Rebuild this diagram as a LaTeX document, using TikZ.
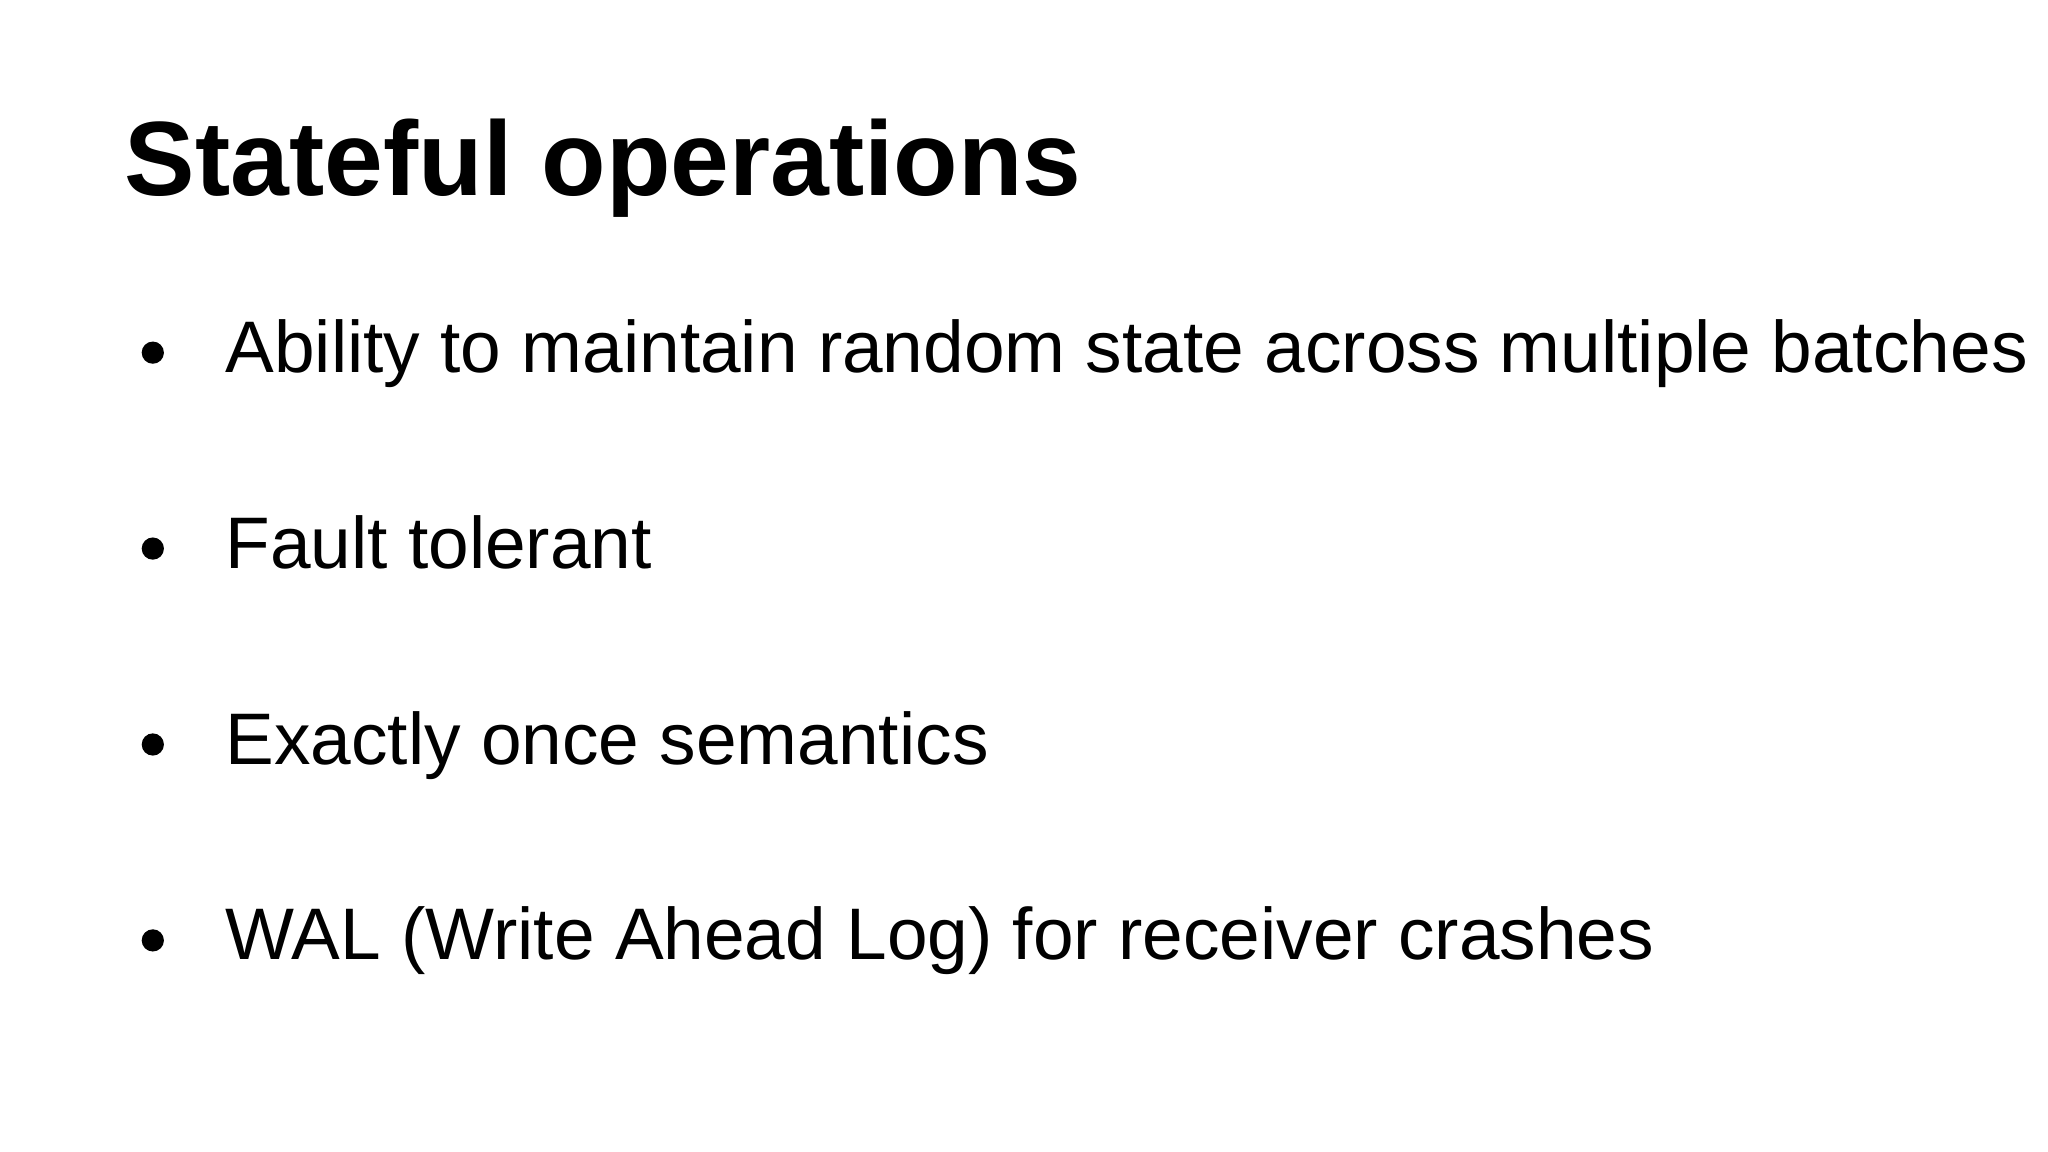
\documentclass[tikz,border=0pt]{standalone}
\usepackage{fontspec}
\setmainfont{Liberation Sans}
\newfontfamily\symfont{DejaVu Sans}
\begin{document}
\begin{tikzpicture}[x=0.01cm,y=-0.01cm,
  title/.style={anchor=base west,inner sep=0pt,font=\fontsize{23pt}{27pt}\selectfont\bfseries},
  item/.style={anchor=base west,inner sep=0pt,font=\fontsize{15.9pt}{19pt}\selectfont},
  dot/.style={circle,fill=black,inner sep=0pt,minimum size=0.17cm}]
\useasboundingbox (0,0) rectangle (1568,882);
\node[title] (t) at (95,150) {Stateful operations};
\node[item] (a) at (172,285) {Ability to maintain random state across multiple batches};
\node[item] (b) at (172,435) {Fault tolerant};
\node[item] (c) at (172,585) {Exactly once semantics};
\node[item] (d) at (172,735) {WAL (Write Ahead Log) for receiver crashes};
\node[dot] (da) at (117,270) {};
\node[dot] (db) at (117,420) {};
\node[dot] (dc) at (117,570) {};
\node[dot] (dd) at (117,720) {};
\end{tikzpicture}
\end{document}
